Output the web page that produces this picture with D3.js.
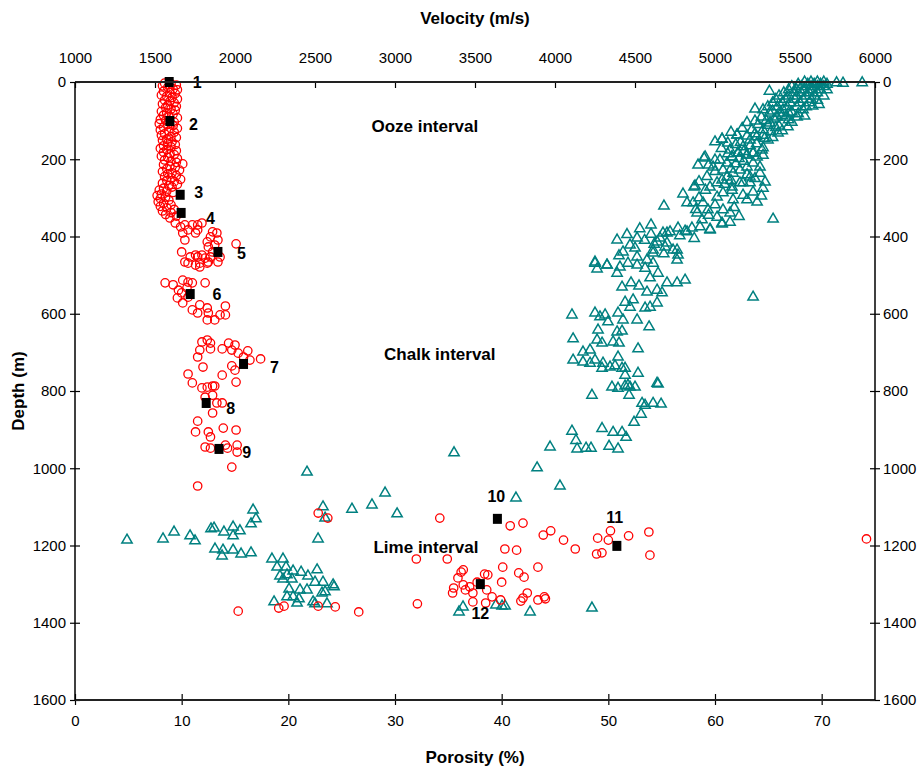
<!DOCTYPE html>
<html>
<head>
<meta charset="utf-8">
<script src="https://cdn.jsdelivr.net/npm/d3@7"></script>
<style>
  body { margin: 0; background: #fff; }
  svg { display: block; }
</style>
</head>
<body>
<svg id="chart"></svg>
<script>
// porosity samples (circles): [depth m, porosity %]
var porosityPoints = [
  [3,8.4],[5,9.0],[8,9.5],[10,8.2],[14,8.7],[18,9.2],[20,9.6],[24,8.3],[27,8.9],[30,9.4],
  [34,8.1],[37,8.6],[40,9.1],[44,9.6],[47,8.4],[50,8.9],[54,9.3],[57,8.2],[60,8.7],[63,9.5],
  [66,8.5],[70,9.0],[73,9.4],[76,8.1],[80,8.6],[83,9.2],[86,8.3],[90,8.8],[93,9.6],[97,8.0],
  [100,8.5],[104,9.3],[108,7.9],[110,8.7],[113,9.2],[117,8.3],[120,9.6],[124,8.0],[127,8.8],
  [130,9.3],[134,8.4],[138,8.1],[141,9.0],[144,9.5],[148,8.6],[151,8.2],[155,9.1],[158,8.7],
  [162,9.4],[165,8.3],[168,9.0],[172,8.0],[175,8.6],[178,9.5],[182,8.3],[185,8.9],[188,9.3],
  [192,8.1],[195,8.7],[198,9.6],[202,8.4],[205,9.0],[208,9.5],[212,10.1],[214,8.3],[218,8.9],
  [221,9.4],[225,8.6],[228,9.8],[232,8.2],[235,9.1],[238,8.7],[242,9.5],[245,8.4],[248,9.0],
  [252,9.9],[255,8.6],[258,9.3],[262,8.2],[265,9.6],[268,8.8],[272,9.1],[275,8.3],[280,7.9],
  [283,8.6],[286,9.2],[290,8.1],[294,7.7],[298,8.5],[302,8.0],[306,8.8],[310,7.8],[314,8.3],
  [318,9.0],[322,8.0],[326,8.6],[330,9.3],[334,8.2],[338,9.0],[343,8.5],[347,9.5],
  [352,8.9],[365,9.4],[375,9.9],[370,10.3],[370,11.0],[370,11.5],[365,11.9],[383,10.6],
  [391,11.3],[383,11.5],[391,10.1],[409,10.3],[388,12.9],[391,13.3],[401,12.7],[414,12.4],
  [427,12.5],[422,13.1],[409,13.4],[419,15.1],
  [440,10.0],[466,10.3],[453,10.8],[448,11.3],[453,11.5],[448,11.9],[456,12.2],[453,12.7],
  [440,12.9],[453,13.6],[469,10.6],[469,11.7],[469,12.4],[474,11.3],[479,11.7],[466,12.5],[466,13.4],
  [520,8.45],[525,9.2],[513,10.1],[518,10.6],[520,11.0],[520,12.2],[539,9.7],[533,10.5],
  [559,9.6],[546,10.0],[557,10.6],[572,10.1],[590,11.0],[598,11.5],[577,11.7],[585,12.4],
  [598,12.5],[616,12.4],[616,13.1],[603,13.6],[603,14.1],[580,14.1],
  [673,11.9],[668,12.4],[676,12.7],[694,11.7],[712,11.5],[691,12.7],[691,13.8],[676,14.4],
  [681,15.0],[694,14.7],[702,15.3],[696,16.2],[712,15.8],[720,16.4],[717,17.4],[735,14.7],
  [746,15.0],[738,12.0],[756,10.6],[779,11.0],[759,13.8],[777,15.1],
  [792,11.9],[790,12.4],[787,12.9],[787,13.1],[811,12.9],[816,12.2],[831,13.3],[831,13.8],[857,12.9],
  [878,11.5],[906,11.3],[906,12.5],[919,12.7],[896,13.9],[901,15.1],[945,12.2],[948,12.7],
  [940,14.1],[948,14.3],[940,15.2],[958,15.2],[997,14.7],[1046,11.5],
  [1116,22.8],[1129,23.7],[1370,15.3],[1362,19.1],[1357,19.6],[1357,22.8],[1359,24.4],[1372,26.6],
  [1235,32.0],[1351,32.1],[1129,34.2],[1235,34.9],[1149,40.8],[1142,42.0],[1173,43.9],[1162,44.6],
  [1186,45.8],[1209,46.9],[1209,40.3],[1212,41.4],[1181,49.0],[1186,50.0],[1162,50.2],[1175,51.9],
  [1165,53.8],[1222,48.9],[1219,49.4],[1225,53.9],[1256,40.1],[1256,43.4],[1271,41.6],[1282,42.1],
  [1263,36.4],[1269,36.2],[1284,35.9],[1276,38.7],[1274,38.4],[1295,37.7],[1295,40.0],[1310,35.5],
  [1323,35.4],[1302,36.4],[1315,36.6],[1307,37.0],[1323,37.3],[1315,38.6],[1333,39.1],[1346,37.3],
  [1349,38.5],[1341,39.9],[1344,41.8],[1336,42.0],[1323,42.4],[1341,43.4],[1333,44.0],[1338,44.1],
  [1183,74.2]
];

// velocity samples (triangles): [depth m, velocity m/s]
var velocityPoints = [
  [0,5560],[0,5600],[0,5640],[0,5680],[2,5760],[3,5800],[2,5920],
  [6,5520],[6,5580],[6,5620],[6,5660],[6,5700],
  [12,5480],[12,5540],[12,5600],[12,5640],[12,5680],
  [20,5460],[20,5510],[20,5560],[20,5610],[20,5660],[20,5700],[24,5340],
  [28,5430],[28,5490],[28,5540],[28,5590],[28,5640],
  [36,5400],[36,5460],[36,5510],[36,5570],[36,5620],[36,5680],
  [45,5380],[45,5440],[45,5500],[45,5550],[45,5600],[47,5640],
  [54,5360],[54,5420],[54,5470],[54,5530],[54,5590],[58,5650],
  [64,5330],[64,5390],[64,5450],[64,5510],[64,5570],[62,5610],
  [70,5250],[72,5300],[72,5425],[72,5550],[80,5340],[80,5400],[80,5460],[82,5520],
  [75,5360],[78,5480],[86,5420],[88,5560],[96,5370],[98,5460],
  [91,5290],[91,5388],[91,5440],[91,5513],[101,5250],[100,5320],[106,5344],[104,5480],
  [110,5270],[114,5400],[116,5456],[124,5300],[124,5230],[128,5350],[132,5394],
  [105,5200],[112,5330],[118,5380],[120,5170],[126,5420],[134,5250],[138,5300],[144,5360],[130,5100],
  [137,5138],[140,5200],[142,5260],[146,5310],[150,5219],[150,5331],
  [148,5044],[156,5160],[160,5260],[168,5175],[176,5094],[176,5294],
  [155,5000],[158,5080],[162,5130],[165,5220],[170,5300],[172,5040],[180,5180],[186,5080],[190,5300],[198,5150],
  [184,5144],[184,5238],[189,5200],[194,5106],[194,4938],[194,5263],
  [205,5180],[212,5130],[215,4960],[225,5100],[232,5000],[240,5200],[245,4950],[250,5250],[255,5100],[258,4900],
  [265,5060],[275,5300],[280,4940],[290,4800],[295,5290],[300,4900],[305,5200],[318,5000],[325,5120],[330,4880],
  [345,4960],[348,5150],
  [215,4894],[220,4988],[269,4875],[321,4681],[355,5363],[311,5263],[259,5313],[285,5238],
  [293,5175],[305,5113],[339,5094],[365,5044],[383,4969],[375,4906],[378,4856],[386,4813],
  [378,4769],[388,4719],[391,4675],[414,4638],[435,4613],[427,4688],[435,4738],[448,4769],
  [313,4825],[313,4863],[313,4925],[272,4969],[261,5013],[254,5044],[246,5075],[236,5113],
  [228,5156],[220,5200],[210,5238],[220,5281],[236,5281],[246,5219],[261,5156],[280,5106],
  [287,5050],[298,5013],[331,4956],[350,5013],[339,4888],[357,4919],[331,5050],[272,5106],
  [261,5175],[261,5219],[228,5050],[210,5075],[194,5106],[184,5144],[189,5200],[184,5238],
  [202,5031],[202,5000],[197,4931],[272,4869],[148,5044],[137,5138],
  [370,4600],[380,4530],[395,4450],[398,4780],[405,4870],[410,4560],[420,4620],[430,4500],[445,4680],[450,4400],
  [409,4388],[422,4469],[404,4513],[394,4600],[404,4656],[391,4700],[435,4763],[461,4763],
  [388,4825],[381,4969],[368,5044],[363,5094],[466,4250],[474,4325],[440,4425],[443,4613],
  [461,4575],[453,4513],[417,4700],[557,5238],
  [469,4250],[474,4325],[484,4263],[495,4388],[479,4406],[469,4456],[474,4513],[482,4563],
  [469,4613],[495,4644],[507,4594],[520,4700],[520,4763],[513,4813],[531,4419],[520,4475],
  [528,4525],[544,4575],[539,4638],[546,4669],[570,4438],[564,4488],[583,4469],[616,4513],
  [585,4563],[583,4594],[572,4638],[634,4588],[603,4106],[598,4250],[608,4281],[603,4313],
  [621,4331],[598,4394],[616,4425],[647,4388],[645,4419],[642,4269],[668,4263],[676,4294],
  [673,4363],[676,4400],[691,4519],[665,4113],[699,4175],[694,4219],[720,4250],[725,4175],
  [720,4113],[728,4300],[728,4219],[741,4294],[738,4344],[735,4375],[712,4394],[741,4419],
  [741,4438],[759,4438],[754,4519],[780,4638],[790,4356],[793,4394],[785,4456],[790,4500],
  [811,4463],[811,4231],[832,4544],[837,4563],[832,4613],[834,4663],[782,4644],[860,4538],
  [881,4494],[897,4294],[904,4106],[907,4363],[907,4419],[920,4444],[928,4131],[945,3969],
  [950,4138],[948,4194],[948,4225],[943,4338],[950,4394],[787,4438],[790,4469],
  [960,3369],[999,3888],[1046,4031],[1077,3756],[1010,2450],[1100,2550],[1129,2563],[1106,2731],
  [1095,2856],[1064,2938],[1118,3013],[1183,2519],[1186,1325],[1183,1550],[1165,1619],[1175,1719],
  [1188,1750],[1157,1850],[1155,1869],[1165,1931],[1152,1988],[1175,1988],[1162,2031],[1144,2100],
  [1108,2113],[1131,2131],[1209,1875],[1212,1925],[1227,1919],[1212,1988],[1222,2038],[1219,2100],
  [1235,2231],[1235,2300],[1256,2263],[1256,2319],[1266,2363],[1269,2413],[1279,2281],[1276,2325],
  [1287,2300],[1287,2356],[1279,2456],[1263,2513],[1295,2500],[1295,2550],[1302,2613],[1307,2619],
  [1313,2338],[1315,2406],[1315,2450],[1323,2544],[1320,2563],[1333,2325],[1333,2363],[1338,2400],
  [1349,2388],[1346,2244],[1346,2488],[1351,2500],[1351,2575],
  [1372,3400],[1359,3425],[1354,3631],[1357,3669],[1357,3688],[1372,3844],[1362,4231]
];

// numbered reference samples (black squares): [depth m, porosity %]
var samplePoints = [
  [0,8.83],[101,8.9],[292,9.86],[339,9.95],[440,13.4],[549,10.8],
  [730,15.8],[831,12.3],[950,13.5],[1131,39.6],[1201,50.8],[1300,38.0]
];
var sampleNames = ["1","2","3","4","5","6","7","8","9","10","11","12"];
// label anchors for the numbers: [depth m, porosity %]
var sampleLabelAt = [
  [0,11.45],[111,11.1],[287,11.6],[352,12.7],[443,15.6],[551,13.3],
  [738,18.7],[844,14.6],[960,16.1],[1074,39.5],[1126,50.6],[1375,38.0]
];

var intervalNames = ["Ooze interval", "Chalk interval", "Lime interval"];
var intervalAt = [[114,32.8], [704,34.2], [1204,32.9]];   // [depth, porosity]

var porosityTicks = [0,10,20,30,40,50,60,70];
var velocityTicks = [1000,1500,2000,2500,3000,3500,4000,4500,5000,5500,6000];
var depthTicks = [0,200,400,600,800,1000,1200,1400,1600];

var width = 918, height = 773;
var margin = {left: 75, right: 43, top: 82, bottom: 73};
var tickFont = "'Liberation Sans', Arial, sans-serif";
var boldFont = "'Liberation Sans', Arial, sans-serif";

var svg = d3.select("#chart")
    .attr("width", width)
    .attr("height", height);

var xPor = d3.scaleLinear().domain([0, 75]).range([margin.left, width - margin.right]);
var xVel = d3.scaleLinear().domain([1000, 6000]).range([margin.left, width - margin.right]);
var yDepth = d3.scaleLinear().domain([0, 1600]).range([margin.top, height - margin.bottom]);

var x0 = xPor.range()[0], x1 = xPor.range()[1];
var y0 = yDepth.range()[0], y1 = yDepth.range()[1];
var fmt = d3.format("d");

// axes
var topAxis = svg.append("g")
    .attr("transform", "translate(0," + y0 + ")")
    .call(d3.axisTop(xVel).tickValues(velocityTicks).tickFormat(fmt)
        .tickSizeInner(-6).tickSizeOuter(0).tickPadding(19));

var bottomAxis = svg.append("g")
    .attr("transform", "translate(0," + y1 + ")")
    .call(d3.axisBottom(xPor).tickValues(porosityTicks).tickFormat(fmt).tickSize(5).tickPadding(10));
bottomAxis.selectAll(".tick line").attr("y1", -6);

var leftAxis = svg.append("g")
    .attr("transform", "translate(" + x0 + ",0)")
    .call(d3.axisLeft(yDepth).tickValues(depthTicks).tickFormat(fmt).tickSize(5).tickPadding(4));
leftAxis.selectAll(".tick line").attr("x1", 5);

var rightAxis = svg.append("g")
    .attr("transform", "translate(" + x1 + ",0)")
    .call(d3.axisRight(yDepth).tickValues(depthTicks).tickFormat(fmt).tickSize(5).tickPadding(3));
rightAxis.selectAll(".tick line").attr("x1", -5);

[topAxis, bottomAxis, leftAxis, rightAxis].forEach(function(a) {
    a.select(".domain").remove();
    a.selectAll(".tick line").attr("stroke", "#000").attr("stroke-width", 1.2);
    a.selectAll(".tick text")
        .style("font-family", tickFont)
        .style("font-size", "15px")
        .attr("fill", "#000");
});

// data marks
svg.append("g")
    .selectAll("path")
    .data(velocityPoints)
    .enter()
    .append("path")
    .attr("transform", function(d) { return "translate(" + xVel(d[1]) + "," + yDepth(d[0]) + ")"; })
    .attr("d", d3.symbol(d3.symbolTriangle, 46))
    .attr("fill", "none")
    .attr("stroke", "#008080")
    .attr("stroke-width", 1.5);

svg.append("g")
    .selectAll("circle")
    .data(porosityPoints)
    .enter()
    .append("circle")
    .attr("cx", function(d) { return xPor(d[1]); })
    .attr("cy", function(d) { return yDepth(d[0]); })
    .attr("r", 4.2)
    .attr("fill", "none")
    .attr("stroke", "#ff0000")
    .attr("stroke-width", 1.3);

svg.append("g")
    .selectAll("rect")
    .data(samplePoints)
    .enter()
    .append("rect")
    .attr("x", function(d) { return xPor(d[1]) - 4.5; })
    .attr("y", function(d) { return yDepth(d[0]) - 5; })
    .attr("width", 9)
    .attr("height", 10)
    .attr("fill", "#000");

svg.append("g")
    .selectAll("text")
    .data(sampleLabelAt)
    .enter()
    .append("text")
    .attr("x", function(d) { return xPor(d[1]); })
    .attr("y", function(d) { return yDepth(d[0]); })
    .attr("dy", "0.35em")
    .attr("text-anchor", "middle")
    .style("font-family", boldFont)
    .style("font-weight", "bold")
    .style("font-size", "16px")
    .text(function(d, i) { return sampleNames[i]; });

svg.append("g")
    .selectAll("text")
    .data(intervalAt)
    .enter()
    .append("text")
    .attr("x", function(d) { return xPor(d[1]); })
    .attr("y", function(d) { return yDepth(d[0]); })
    .attr("dy", "0.35em")
    .attr("text-anchor", "middle")
    .style("font-family", boldFont)
    .style("font-weight", "bold")
    .style("font-size", "17px")
    .text(function(d, i) { return intervalNames[i]; });

// frame lines
svg.append("line").attr("x1", x0).attr("x2", x1).attr("y1", y0).attr("y2", y0)
    .attr("stroke", "#222").attr("stroke-width", 2);
svg.append("line").attr("x1", x0).attr("x2", x1).attr("y1", y1).attr("y2", y1)
    .attr("stroke", "#222").attr("stroke-width", 2);
svg.append("line").attr("x1", x0).attr("x2", x0).attr("y1", y0).attr("y2", y1)
    .attr("stroke", "#000").attr("stroke-width", 1.5);
svg.append("line").attr("x1", x1).attr("x2", x1).attr("y1", y0).attr("y2", y1)
    .attr("stroke", "#000").attr("stroke-width", 1.5);

// axis titles
svg.append("text")
    .attr("x", (x0 + x1) / 2)
    .attr("y", 24)
    .attr("text-anchor", "middle")
    .style("font-family", boldFont)
    .style("font-weight", "bold")
    .style("font-size", "17px")
    .text("Velocity (m/s)");

svg.append("text")
    .attr("x", (x0 + x1) / 2)
    .attr("y", 763)
    .attr("text-anchor", "middle")
    .style("font-family", boldFont)
    .style("font-weight", "bold")
    .style("font-size", "17px")
    .text("Porosity (%)");

svg.append("text")
    .attr("transform", "translate(24," + ((y0 + y1) / 2) + ") rotate(-90)")
    .attr("text-anchor", "middle")
    .style("font-family", boldFont)
    .style("font-weight", "bold")
    .style("font-size", "17px")
    .text("Depth (m)");
</script>
</body>
</html>
